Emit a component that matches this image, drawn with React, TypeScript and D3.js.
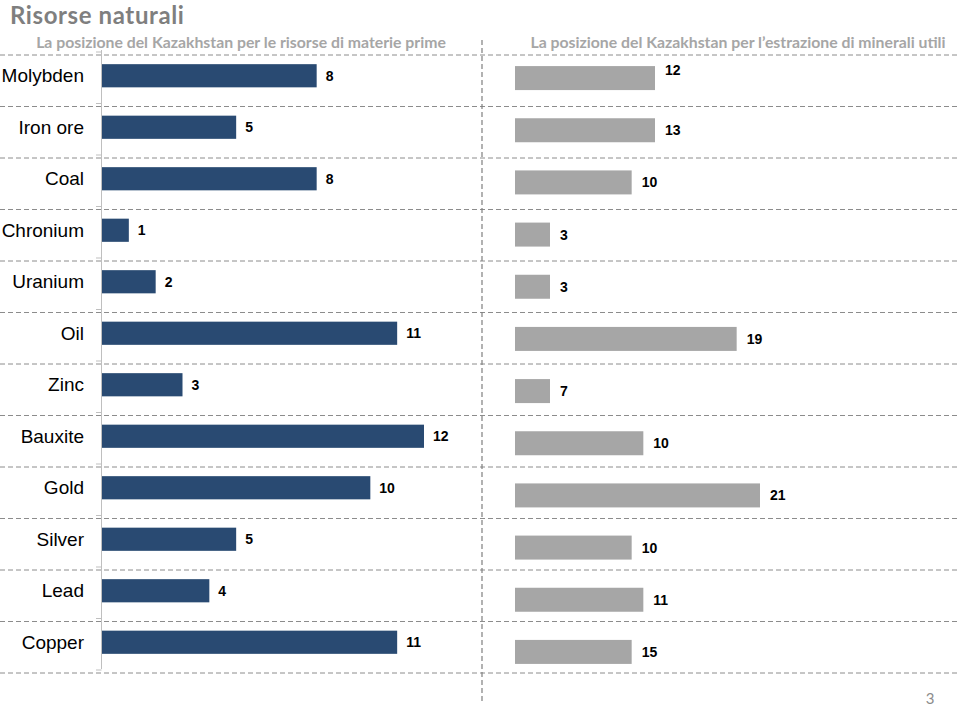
import React from "react";
import * as d3 from "d3";

const categories = ["Molybden", "Iron ore", "Coal", "Chronium", "Uranium", "Oil", "Zinc", "Bauxite", "Gold", "Silver", "Lead", "Copper"];
const reserveRank = [8, 5, 8, 1, 2, 11, 3, 12, 10, 5, 4, 11];
const extractionRank = [12, 13, 10, 3, 3, 19, 7, 10, 21, 10, 11, 15];
// bar lengths as drawn in the reference (they do not always match the printed labels)
const extractionBar = [12, 12, 10, 3, 3, 19, 3, 11, 21, 10, 11, 10];

const title = "Risorse naturali";
const leftSubtitle = "La posizione del Kazakhstan per le risorse di materie prime";
const rightSubtitle = "La posizione del Kazakhstan  per l\u2019estrazione di minerali utili";
const pageNumber = "3";

const W = 960;
const H = 707;

export default function App() {
  const yL = d3.scaleBand<string>().domain(categories).range([50, 668]).paddingInner(0.55).paddingOuter(0.275);
  const yR = d3.scaleBand<string>().domain(categories).range([52, 678]).paddingInner(0.54).paddingOuter(0.27);
  const xL = d3.scaleLinear().domain([0, 12]).range([102, 424]);
  const xR = d3.scaleLinear().domain([0, 21]).range([515, 760]);

  const gridYs = d3.range(categories.length + 1).map((k) => 55 + k * ((673 - 55) / categories.length));
  const tickYs = d3.range(categories.length + 1).map((k) => yL.range()[0] + 2 + k * yL.step());

  const sans = "'Liberation Sans', Arial, sans-serif";
  const head = "Lato, 'Open Sans', sans-serif";

  return (
    <svg width={W} height={H} style={{ position: "absolute", left: 0, top: 0, background: "#fff" }}>
      <text x={10} y={24} fontFamily={head} fontWeight={700} fontSize={24} letterSpacing={0.6} fill="#7f7f7f">{title}</text>
      <text x={241} y={48} textAnchor="middle" fontFamily={head} fontWeight={700} fontSize={15.8} fill="#a6a6a6">{leftSubtitle}</text>
      <text x={738} y={48} textAnchor="middle" fontFamily={head} fontWeight={700} fontSize={15.8} fill="#a6a6a6">{rightSubtitle}</text>

      {gridYs.map((y, i) => (
        <line key={"g" + i} x1={0} x2={W} y1={y} y2={y} stroke="#8c8c8c" strokeWidth={1} strokeDasharray="5,3" />
      ))}
      <line x1={482} x2={482} y1={40} y2={702} stroke="#7f7f7f" strokeWidth={1.2} strokeDasharray="5,3" />

      <line x1={101.5} x2={101.5} y1={50} y2={669} stroke="#bfbfbf" strokeWidth={1} />
      {tickYs.map((y, i) => (
        <line key={"t" + i} x1={96} x2={101.5} y1={y} y2={y} stroke="#bfbfbf" strokeWidth={1} />
      ))}

      {categories.map((c, i) => {
        const y = yL(c)!;
        const h = yL.bandwidth();
        return (
          <g key={"l" + c}>
            <text x={84} y={y + h / 2} dy="0.35em" textAnchor="end" fontFamily={sans} fontSize={19} fill="#000">{c}</text>
            <rect x={xL(0)} y={y} width={xL(reserveRank[i]) - xL(0)} height={h} fill="#294a72" />
            <text x={xL(reserveRank[i]) + 9} y={y + h / 2} dy="0.36em" fontFamily={sans} fontWeight={700} fontSize={14} fill="#000">{reserveRank[i]}</text>
          </g>
        );
      })}

      {categories.map((c, i) => {
        const y = yR(c)!;
        const h = yR.bandwidth();
        return (
          <g key={"r" + c}>
            <rect x={xR(0)} y={y} width={xR(extractionBar[i]) - xR(0)} height={h} fill="#a6a6a6" />
            <text x={xR(extractionBar[i]) + 10} y={y + h / 2} dy={i === 0 ? "-0.2em" : "0.36em"} fontFamily={sans} fontWeight={700} fontSize={14} fill="#000">{extractionRank[i]}</text>
          </g>
        );
      })}

      <text x={930} y={704} textAnchor="middle" fontFamily={head} fontSize={15} fill="#8c8c8c">{pageNumber}</text>
    </svg>
  );
}
